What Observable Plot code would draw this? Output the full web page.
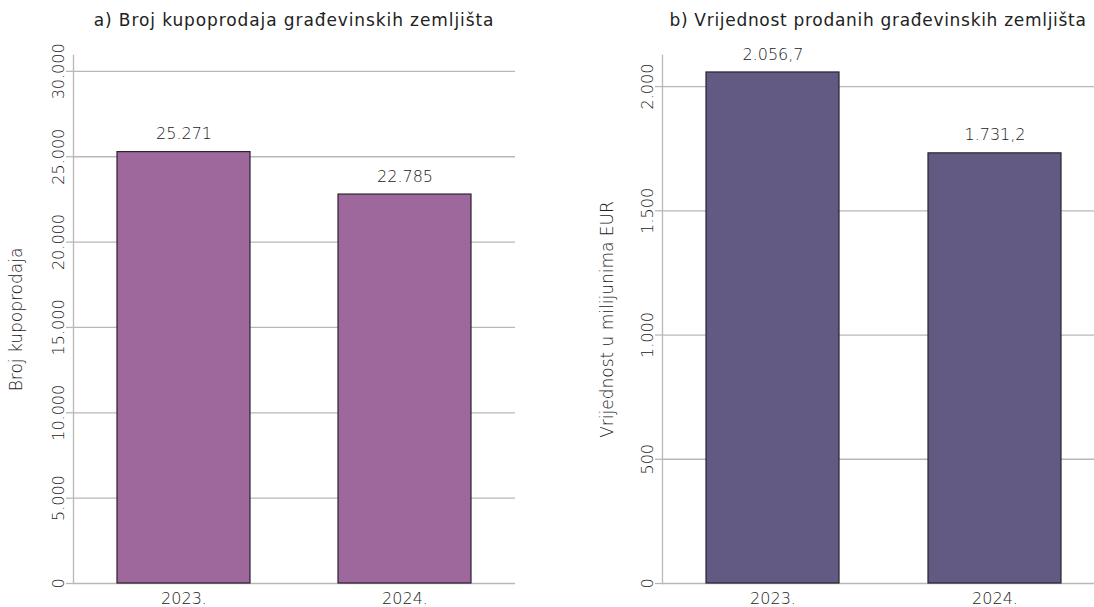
<!DOCTYPE html>
<html>
<head>
<meta charset="utf-8">
<script src="https://cdn.jsdelivr.net/npm/d3@7"></script>
<script src="https://cdn.jsdelivr.net/npm/@observablehq/plot@0.6"></script>
<style>
  html, body { margin: 0; padding: 0; background: #fff; }
  #wrap { position: relative; width: 1094px; height: 607px; overflow: hidden; font-family: "DejaVu Sans", sans-serif; }
  .panel { position: absolute; top: 0; }
  .title { height: 40px; line-height: 40px; font-size: 17px; letter-spacing: 0.9px; color: #222; text-align: center; white-space: nowrap; }
  svg { display: block; overflow: visible; }
</style>
</head>
<body>
<div id="wrap">
  <div class="panel" id="pa"></div>
  <div class="panel" id="pb"></div>
</div>
<script>
// ---- data ----
const years = ["2023.", "2024."];
const counts = [25271, 22785];
const valuesEUR = [2056.7, 1731.2];
const countTicks = [0, 5000, 10000, 15000, 20000, 25000, 30000];
const valueTicks = [0, 500, 1000, 1500, 2000];
const titleA = "a) Broj kupoprodaja građevinskih zemljišta";
const titleB = "b) Vrijednost prodanih građevinskih zemljišta";
const labelA = "Broj kupoprodaja";
const labelB = "Vrijednost u milijunima EUR";

// ---- styling ----
const hr = d3.formatLocale({decimal: ",", thousands: ".", grouping: [3], currency: ["", " €"]});
const fmtInt = hr.format(",.0f");
const fmt1 = hr.format(",.1f");
const gridColor = "#b8b8b8";
const textColor = "#222";
const barStroke = "#2b2130";

function panel({el, left, title, titleShift, titleSpacing, width, marginLeft, marginRight, plotW, yMax, ticks, tickFmt, data, key, labFmt, fill, label, labelOffset}) {
  const node = document.getElementById(el);
  node.style.left = left + "px";
  node.style.width = width + "px";
  const t = document.createElement("div");
  t.className = "title";
  t.style.marginLeft = (marginLeft + titleShift) + "px";
  t.style.width = plotW + "px";
  t.style.letterSpacing = titleSpacing + "px";
  t.textContent = title;
  node.appendChild(t);
  const chart = Plot.plot({
    width,
    height: 567,
    marginTop: 15,
    marginBottom: 24,
    marginLeft,
    marginRight,
    style: {fontFamily: "DejaVu Sans, sans-serif", fontSize: "16px", color: textColor, overflow: "visible"},
    x: {domain: years, type: "band", paddingInner: 0.4, paddingOuter: 0.2},
    y: {domain: [0, yMax]},
    marks: [
      Plot.gridY(ticks, {stroke: gridColor, strokeOpacity: 1, strokeWidth: 1.3}),
      Plot.frame({anchor: "left", stroke: gridColor, strokeWidth: 1.3}),
      Plot.barY(data, {x: "year", y: key, fill, stroke: barStroke, strokeWidth: 1.2}),
      Plot.text(data, {x: "year", y: key, text: d => labFmt(d[key]), dy: -18, fill: textColor, fontSize: 16, fontWeight: 300}),
      Plot.axisY({ticks, tickFormat: tickFmt, tickSize: 7, tickRotate: -90, stroke: gridColor, strokeWidth: 1.3, fill: textColor, fontWeight: 300,
        label: null}),
      Plot.axisY({ticks: [], tickSize: 0, fill: textColor, fontWeight: 300, fontSize: 17, dy: -10,
        label, labelAnchor: "center", labelArrow: "none", labelOffset}),
      Plot.axisX({tickSize: 0, tickPadding: 9, fill: textColor, label: null, fontWeight: 300})
    ]
  });
  node.appendChild(chart);
}

const dataA = years.map((year, i) => ({year, count: counts[i]}));
const dataB = years.map((year, i) => ({year, value: valuesEUR[i]}));

panel({el: "pa", left: 0, title: titleA, titleShift: 0, titleSpacing: 0.9, width: 547, marginLeft: 73, marginRight: 32, plotW: 442,
  yMax: 30930, ticks: countTicks, tickFmt: fmtInt, data: dataA, key: "count", labFmt: fmtInt,
  fill: "#9f689c", label: labelA, labelOffset: 64});
panel({el: "pb", left: 547, title: titleB, titleShift: -6, titleSpacing: 0.7, width: 559, marginLeft: 115, marginRight: 0, plotW: 444,
  yMax: 2125, ticks: valueTicks, tickFmt: fmtInt, data: dataB, key: "value", labFmt: fmt1,
  fill: "#635a84", label: labelB, labelOffset: 62});
</script>
</body>
</html>
